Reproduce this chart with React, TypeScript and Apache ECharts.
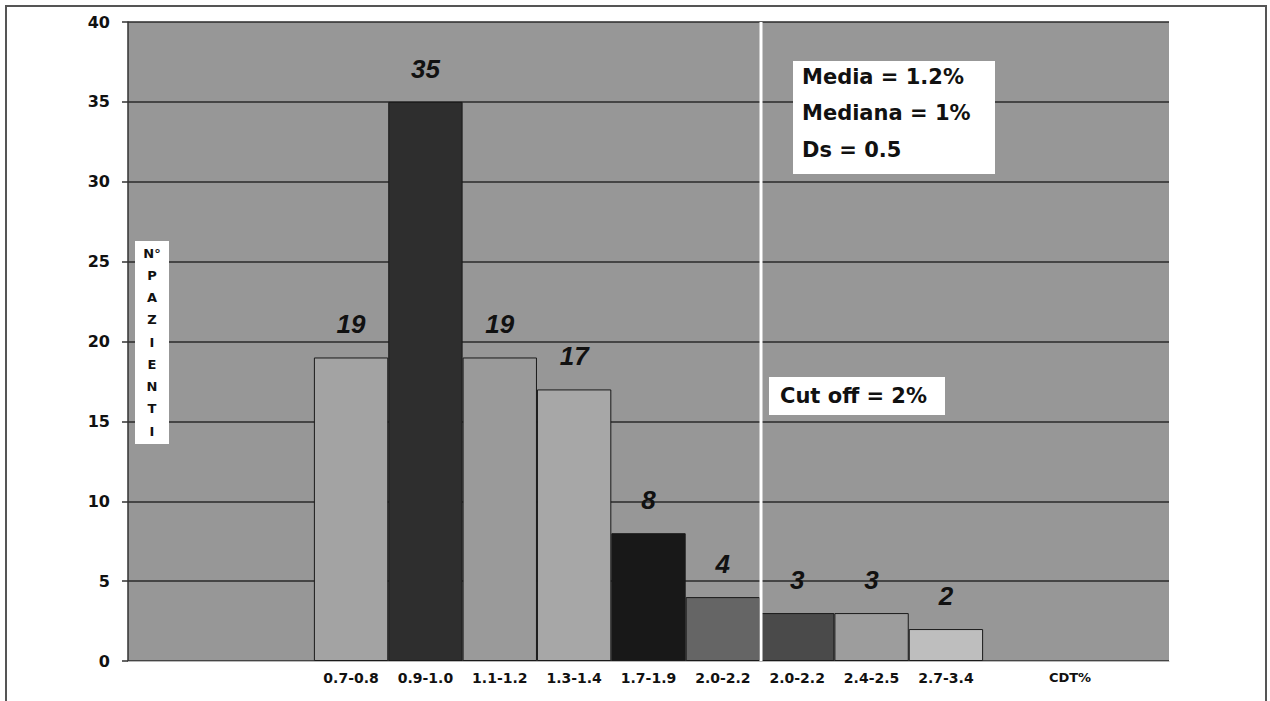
import React, { useEffect, useRef } from "react";
import * as echarts from "echarts";

const categories = ["0.7-0.8", "0.9-1.0", "1.1-1.2", "1.3-1.4", "1.7-1.9", "2.0-2.2", "2.0-2.2", "2.4-2.5", "2.7-3.4"];
const patients = [19, 35, 19, 17, 8, 4, 3, 3, 2];
const barColors = ["#a3a3a3", "#2e2e2e", "#9a9a9a", "#a7a7a7", "#181818", "#656565", "#4a4a4a", "#9d9d9d", "#bebebe"];
const leadingEmpty = ["", "", ""];
const trailingEmpty = ["", "", ""];
const yMin = 0;
const yMax = 40;
const yInterval = 5;
const statsLines = ["Media = 1.2%", "Mediana = 1%", "Ds = 0.5"];
const cutOffText = "Cut off = 2%";
const yAxisTitle = "N°\nP\nA\nZ\nI\nE\nN\nT\nI";
const xAxisTitle = "CDT%";

export default function App() {
  const ref = useRef<HTMLDivElement>(null);
  useEffect(() => {
    if (!ref.current) return;
    const chart = echarts.init(ref.current, null, { renderer: "svg" });
    const axisData = [...leadingEmpty, ...categories, ...trailingEmpty];
    const seriesData: any[] = [
      ...leadingEmpty.map(() => "-"),
      ...patients.map((v, i) => ({ value: v, itemStyle: { color: barColors[i] } })),
      ...trailingEmpty.map(() => "-"),
    ];
    const textFont = "DejaVu Sans";
    chart.setOption({
      animation: false,
      backgroundColor: "#ffffff",
      grid: {
        left: 128,
        right: 101,
        top: 22,
        bottom: 40,
        show: true,
        backgroundColor: "#979797",
        borderWidth: 0,
      },
      xAxis: {
        type: "category",
        data: axisData,
        boundaryGap: false,
        axisLine: { show: true, lineStyle: { color: "#b8b8b8", width: 1 } },
        axisTick: { show: false },
        splitLine: { show: false },
        axisLabel: {
          interval: 0,
          margin: 10,
          fontSize: 14,
          fontWeight: "bold",
          fontFamily: textFont,
          color: "#111",
        },
      },
      yAxis: {
        type: "value",
        min: yMin,
        max: yMax,
        interval: yInterval,
        axisLine: { show: true, lineStyle: { color: "#333", width: 1.5 } },
        axisTick: { show: true, length: 6, lineStyle: { color: "#333", width: 1.5 } },
        splitLine: { show: true, lineStyle: { color: "#2a2a2a", width: 1.5 } },
        axisLabel: {
          margin: 18,
          fontSize: 16,
          fontWeight: "bold",
          fontFamily: textFont,
          color: "#111",
        },
      },
      series: [
        {
          type: "bar",
          data: seriesData,
          barWidth: "100%",
          itemStyle: { borderColor: "#1a1a1a", borderWidth: 1 },
          label: {
            show: true,
            position: "top",
            distance: 20,
            fontSize: 26,
            fontStyle: "italic",
            fontWeight: "bold",
            fontFamily: "Liberation Sans",
            color: "#111",
          },
        },
      ],
      graphic: [
        {
          type: "rect",
          shape: { x: 6, y: 6, width: 1260, height: 730 },
          style: { fill: "none", stroke: "#555", lineWidth: 2 },
          z: 0,
        },
        {
          type: "line",
          shape: { x1: 761, y1: 22, x2: 761, y2: 661 },
          style: { stroke: "#ffffff", lineWidth: 3 },
          z: 50,
        },
        {
          type: "rect",
          shape: { x: 793, y: 61, width: 202, height: 113 },
          style: { fill: "#ffffff" },
          z: 60,
        },
        ...statsLines.map((t, i) => ({
          type: "text",
          x: 802,
          y: [77, 113, 150][i],
          style: {
            text: t,
            fontSize: 21,
            fontWeight: "bold",
            fontFamily: textFont,
            fill: "#111",
            align: "left",
            verticalAlign: "middle",
          },
          z: 61,
        })),
        {
          type: "rect",
          shape: { x: 769, y: 377, width: 176, height: 38 },
          style: { fill: "#ffffff" },
          z: 60,
        },
        {
          type: "text",
          x: 780,
          y: 396,
          style: {
            text: cutOffText,
            fontSize: 21,
            fontWeight: "bold",
            fontFamily: textFont,
            fill: "#111",
            align: "left",
            verticalAlign: "middle",
          },
          z: 61,
        },
        {
          type: "rect",
          shape: { x: 135, y: 241, width: 34, height: 203 },
          style: { fill: "#ffffff" },
          z: 60,
        },
        {
          type: "text",
          x: 152,
          y: 342,
          style: {
            text: yAxisTitle,
            fontSize: 13,
            fontWeight: "bold",
            fontFamily: textFont,
            fill: "#111",
            align: "center",
            verticalAlign: "middle",
            lineHeight: 22.25,
          },
          z: 61,
        },
        {
          type: "text",
          x: 1070,
          y: 677,
          style: {
            text: xAxisTitle,
            fontSize: 13,
            fontWeight: "bold",
            fontFamily: textFont,
            fill: "#111",
            align: "center",
            verticalAlign: "middle",
          },
          z: 61,
        },
      ],
    });
    return () => chart.dispose();
  }, []);
  return (
    <div
      ref={ref}
      style={{ position: "fixed", left: 0, top: 0, width: 1270, height: 701 }}
    />
  );
}
